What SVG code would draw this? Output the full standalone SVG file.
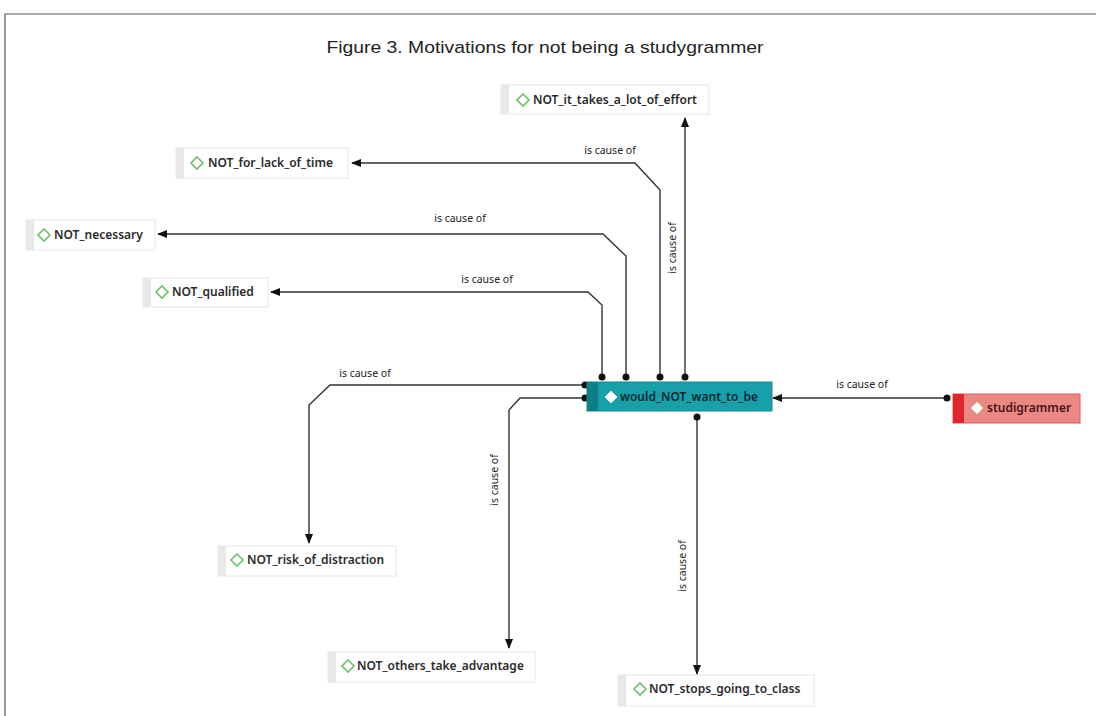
<svg xmlns="http://www.w3.org/2000/svg" width="1096" height="716" viewBox="0 0 1096 716">
<defs>
<marker id="arr" markerWidth="10" markerHeight="10" refX="9" refY="5" orient="auto" markerUnits="userSpaceOnUse">
<path d="M0,1 L10,5 L0,9 Z" fill="#111"/>
</marker>
<style>
.box{fill:#fff;stroke:#e6e6e6;stroke-width:1}
.strip{fill:#e8e8e8}
.dia{fill:none;stroke:#6cbf6c;stroke-width:1.6}
.lbl{font-family:"Noto Sans","Open Sans",sans-serif;font-size:12px;font-weight:600;fill:#2a2a2a}
.lbl2{font-family:"Noto Sans","Open Sans",sans-serif;font-size:12px;font-weight:600}
.edge{fill:none;stroke:#333;stroke-width:1.4}
.el{font-family:"Noto Sans","Open Sans",sans-serif;font-size:10.5px;fill:#222}
.dot{fill:#111}
</style>
</defs>
<rect width="1096" height="716" fill="#fff"/>
<path d="M5,716 V14 H1096" fill="none" stroke="#555" stroke-width="1.2"/>
<text x="545" y="53" text-anchor="middle" font-family="'Liberation Sans',sans-serif" font-size="17" fill="#222" textLength="437" lengthAdjust="spacingAndGlyphs">Figure 3. Motivations for not being a studygrammer</text>

<g id="connectors">
<path class="edge" d="M685,376 V118" marker-end="url(#arr)"/>
<path class="edge" d="M660,376 V190 L635,163 H352" marker-end="url(#arr)"/>
<path class="edge" d="M626,376 V256 L603,234 H158" marker-end="url(#arr)"/>
<path class="edge" d="M602,376 V305 L588,292 H271" marker-end="url(#arr)"/>
<path class="edge" d="M585,385 H330 L309,405 V543" marker-end="url(#arr)"/>
<path class="edge" d="M585,398 H520 L509,410 V648" marker-end="url(#arr)"/>
<path class="edge" d="M697,416 V674" marker-end="url(#arr)"/>
<path class="edge" d="M947,398 H773" marker-end="url(#arr)"/>
<circle class="dot" cx="685" cy="377" r="3.5"/>
<circle class="dot" cx="660" cy="377" r="3.5"/>
<circle class="dot" cx="626" cy="377" r="3.5"/>
<circle class="dot" cx="602" cy="377" r="3.5"/>
<circle class="dot" cx="585" cy="385" r="3.5"/>
<circle class="dot" cx="585" cy="398" r="3.5"/>
<circle class="dot" cx="697" cy="417" r="3.5"/>
<circle class="dot" cx="947" cy="398" r="3.5"/>
<text class="el" x="610" y="154" text-anchor="middle">is cause of</text>
<text class="el" x="460" y="222" text-anchor="middle">is cause of</text>
<text class="el" x="487" y="283" text-anchor="middle">is cause of</text>
<text class="el" x="365" y="377" text-anchor="middle">is cause of</text>
<text class="el" x="862" y="388" text-anchor="middle">is cause of</text>
<text class="el" transform="translate(676,248) rotate(-90)" text-anchor="middle">is cause of</text>
<text class="el" transform="translate(498,480) rotate(-90)" text-anchor="middle">is cause of</text>
<text class="el" transform="translate(686,566) rotate(-90)" text-anchor="middle">is cause of</text>
</g>

<g id="n-effort">
<rect class="box" x="501" y="85" width="208" height="29"/>
<rect class="strip" x="501" y="85" width="8" height="29"/>
<path class="dia" d="M523,94 L529,100 L523,106 L517,100 Z"/>
<text class="lbl" x="533" y="104">NOT_it_takes_a_lot_of_effort</text>
</g>
<g id="n-time">
<rect class="box" x="176" y="148" width="172" height="30"/>
<rect class="strip" x="176" y="148" width="8" height="30"/>
<path class="dia" d="M197,157 L203,163 L197,169 L191,163 Z"/>
<text class="lbl" x="208" y="167">NOT_for_lack_of_time</text>
</g>
<g id="n-necessary">
<rect class="box" x="26" y="220" width="129" height="30"/>
<rect class="strip" x="26" y="220" width="8" height="30"/>
<path class="dia" d="M44,229 L50,235 L44,241 L38,235 Z"/>
<text class="lbl" x="54" y="239">NOT_necessary</text>
</g>
<g id="n-qualified">
<rect class="box" x="143" y="278" width="125" height="29"/>
<rect class="strip" x="143" y="278" width="8" height="29"/>
<path class="dia" d="M162,286 L168,292 L162,298 L156,292 Z"/>
<text class="lbl" x="172" y="296">NOT_qualified</text>
</g>
<g id="n-want">
<rect x="587" y="382" width="185" height="29" fill="#18a0aa" stroke="#0f8a94"/>
<rect x="587" y="382" width="11" height="29" fill="#0d7f89"/>
<path d="M611,391 L617,397 L611,403 L605,397 Z" fill="#fff" stroke="#e8f4e8"/>
<text class="lbl2" x="620" y="401" fill="#0f2a33">would_NOT_want_to_be</text>
</g>
<g id="n-studi">
<rect x="953" y="394" width="127" height="29" fill="#ec8884" stroke="#e05a5a"/>
<rect x="953" y="394" width="11" height="29" fill="#e0262c"/>
<path d="M977,402 L983,408 L977,414 L971,408 Z" fill="#fff" stroke="#cfe8cf"/>
<text class="lbl2" x="987" y="412" fill="#4a1414">studigrammer</text>
</g>
<g id="n-risk">
<rect class="box" x="218" y="546" width="178" height="30"/>
<rect class="strip" x="218" y="546" width="8" height="30"/>
<path class="dia" d="M237,554 L243,560 L237,566 L231,560 Z"/>
<text class="lbl" x="247" y="564">NOT_risk_of_distraction</text>
</g>
<g id="n-others">
<rect class="box" x="328" y="652" width="207" height="30"/>
<rect class="strip" x="328" y="652" width="8" height="30"/>
<path class="dia" d="M348,660 L354,666 L348,672 L342,666 Z"/>
<text class="lbl" x="357" y="670">NOT_others_take_advantage</text>
</g>
<g id="n-stops">
<rect class="box" x="618" y="675" width="196" height="31"/>
<rect class="strip" x="618" y="675" width="8" height="31"/>
<path class="dia" d="M640,683 L646,689 L640,695 L634,689 Z"/>
<text class="lbl" x="649" y="693">NOT_stops_going_to_class</text>
</g>
</svg>
